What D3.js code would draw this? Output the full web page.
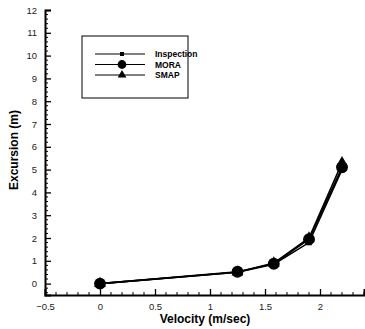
<!DOCTYPE html>
<html>
<head>
<meta charset="utf-8">
<script src="https://cdn.jsdelivr.net/npm/d3@7"></script>
<style>
  body { margin: 0; background: #fff; }
  svg { display: block; font-family: "Liberation Sans", Arial, sans-serif; }
</style>
</head>
<body>
<div id="chart"></div>
<script>
// Velocity (m/sec) vs excursion (m)
const velocity = [0, 1.25, 1.58, 1.9, 2.2];
const inspection = [0, 0.5, 0.85, 1.8, 5.0];
const mora = [0, 0.52, 0.87, 1.95, 5.1];
const smap = [0, 0.5, 0.9, 2.0, 5.3];
const seriesNames = ['Inspection', 'MORA', 'SMAP'];
const xTicks = [-0.5, 0, 0.5, 1, 1.5, 2];
const yTicks = [0, 1, 2, 3, 4, 5, 6, 7, 8, 9, 10, 11, 12];

const width = 365, height = 329;
const svg = d3.select('#chart').append('svg')
  .attr('width', width).attr('height', height);

const x = d3.scaleLinear().domain([-0.5, 2.4]).range([45, 364]);
const y = d3.scaleLinear().domain([-0.5, 12]).range([295, 10]);

// minor ticks
const xMinor = d3.range(-5, 25).map(d => d / 10).filter(d => !xTicks.some(t => Math.abs(t - d) < 1e-9));
const yMinor = d3.range(-2, 61).map(d => d / 5).filter(d => !yTicks.some(t => Math.abs(t - d) < 1e-9));

const axisG = svg.append('g').attr('stroke', '#000');
axisG.selectAll('.xminor').data(xMinor).join('line')
  .attr('x1', d => x(d)).attr('x2', d => x(d))
  .attr('y1', y(-0.5)).attr('y2', y(-0.5) - 3).attr('stroke-width', 1);
axisG.selectAll('.yminor').data(yMinor).join('line')
  .attr('x1', x(-0.5)).attr('x2', x(-0.5) + 3)
  .attr('y1', d => y(d)).attr('y2', d => y(d)).attr('stroke-width', 1);

// main axes, ticks drawn inward
const xAxis = d3.axisBottom(x).tickValues(xTicks).tickSize(-6).tickPadding(8)
  .tickFormat(d => d3.format('')(d));
const yAxis = d3.axisLeft(y).tickValues(yTicks).tickSize(-6).tickPadding(8);

const gx = svg.append('g').attr('transform', `translate(0,${y(-0.5)})`).call(xAxis);
const gy = svg.append('g').attr('transform', `translate(${x(-0.5)},0)`).call(yAxis);
[gx, gy].forEach(g => {
  g.select('.domain').attr('stroke-width', 2);
  g.selectAll('.tick line').attr('stroke-width', 1.3);
  g.selectAll('.tick text').attr('font-size', 9.5).attr('fill', '#222')
    .attr('font-family', '"Liberation Sans Narrow", "Liberation Sans", sans-serif');
});

// axis titles
svg.append('text')
  .attr('x', 205).attr('y', 323)
  .attr('text-anchor', 'middle')
  .attr('font-weight', 'bold').attr('font-size', 12)
  .text('Velocity (m/sec)');
svg.append('text')
  .attr('transform', `rotate(-90) translate(${-150},${18})`)
  .attr('text-anchor', 'middle')
  .attr('font-weight', 'bold').attr('font-size', 12)
  .text('Excursion (m)');

// series
const series = [
  { name: seriesNames[0], values: inspection, marker: d3.symbolSquare, size: 30 },
  { name: seriesNames[1], values: mora, marker: d3.symbolCircle, size: 110 },
  { name: seriesNames[2], values: smap, marker: d3.symbolTriangle, size: 60 }
];

const line = d3.line().x((d, i) => x(velocity[i])).y(d => y(d));
series.forEach(s => {
  svg.append('path').datum(s.values)
    .attr('d', line).attr('fill', 'none')
    .attr('stroke', '#000').attr('stroke-width', 1.6);
});
series.forEach(s => {
  svg.selectAll(null).data(s.values).join('path')
    .attr('transform', (d, i) => `translate(${x(velocity[i])},${y(d)})`)
    .attr('d', d3.symbol().type(s.marker).size(s.size))
    .attr('fill', '#000');
});

// legend
const lg = svg.append('g');
lg.append('rect')
  .attr('x', 82).attr('y', 36).attr('width', 106).attr('height', 62)
  .attr('fill', '#fff').attr('stroke', '#000').attr('stroke-width', 1);
series.forEach((s, i) => {
  const ly = 54 + i * 10.5;
  lg.append('line').attr('x1', 95).attr('x2', 145).attr('y1', ly).attr('y2', ly)
    .attr('stroke', '#000').attr('stroke-width', 1.2);
  lg.append('path').attr('transform', `translate(122,${ly})`)
    .attr('d', d3.symbol().type(s.marker).size(s.size * 0.55)).attr('fill', '#000');
  lg.append('text').attr('x', 155).attr('y', ly + 3)
    .attr('font-size', 8.5).attr('font-weight', 'bold')
    .text(s.name);
});
</script>
</body>
</html>
